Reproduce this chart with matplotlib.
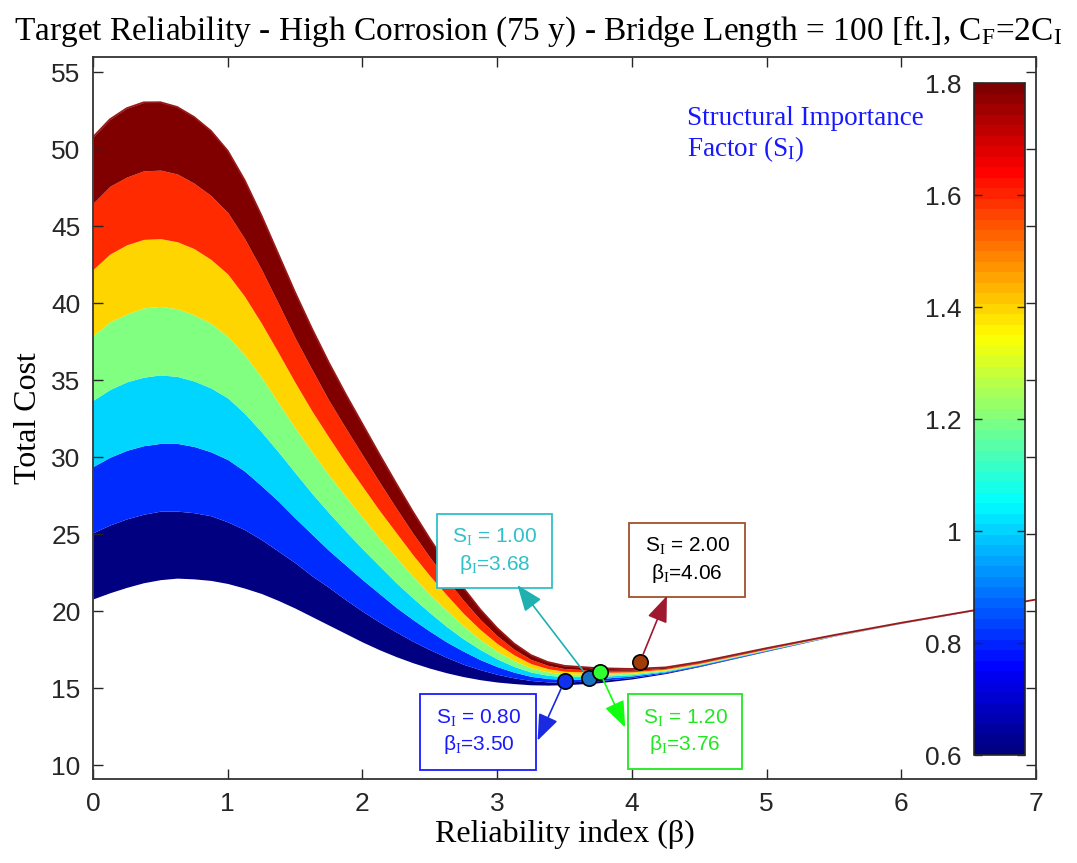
import numpy as np
import matplotlib
matplotlib.use("Agg")
import matplotlib.pyplot as plt
from matplotlib.colors import ListedColormap, Normalize
from matplotlib.patches import Rectangle, FancyArrowPatch
import matplotlib.colorbar as mcolorbar

plt.rcParams['mathtext.fontset'] = 'custom'
plt.rcParams['mathtext.rm'] = 'Liberation Serif'
plt.rcParams['mathtext.it'] = 'Liberation Serif:italic'

# reliability index grid
beta = [0, 0.125, 0.25, 0.375, 0.5, 0.625, 0.75, 0.875, 1.0, 1.125, 1.25, 1.375,
        1.5, 1.625, 1.75, 1.875, 2.0, 2.125, 2.25, 2.375, 2.5, 2.625, 2.75, 2.875,
        3.0, 3.125, 3.25, 3.375, 3.5, 3.75, 4.0, 4.25, 4.5, 5.0, 5.5, 6.0, 6.5, 7.0]

# structural importance factors, one total-cost curve each
si_levels = [0.6, 0.8, 1.0, 1.2, 1.4, 1.6, 1.8, 2.0]

cost_060 = [20.8, 21.2, 21.55, 21.85, 22.05, 22.15, 22.1, 22.0, 21.8, 21.5, 21.15, 20.7,
            20.2, 19.65, 19.1, 18.55, 18.0, 17.5, 17.05, 16.65, 16.3, 16.0, 15.75, 15.55,
            15.4, 15.3, 15.22, 15.2, 15.22, 15.35, 15.6, 15.95, 16.4, 17.4, 18.38, 19.21,
            19.98, 20.76]
cost_080 = [25.1, 25.6, 26.0, 26.3, 26.5, 26.5, 26.4, 26.2, 25.8, 25.3, 24.65, 23.9,
            23.15, 22.3, 21.55, 20.75, 20.0, 19.3, 18.65, 18.05, 17.5, 17.0, 16.55, 16.2,
            15.9, 15.67, 15.5, 15.41, 15.4, 15.49, 15.69, 16.01, 16.44, 17.43, 18.39, 19.22,
            19.98, 20.76]
cost_100 = [29.4, 30.0, 30.45, 30.75, 30.9, 30.9, 30.7, 30.35, 29.85, 29.1, 28.15, 27.15,
            26.05, 25.0, 23.95, 23.0, 22.05, 21.15, 20.25, 19.45, 18.7, 18.0, 17.4, 16.85,
            16.4, 16.04, 15.77, 15.63, 15.57, 15.62, 15.79, 16.06, 16.49, 17.46, 18.4, 19.22,
            19.99, 20.76]
cost_120 = [33.7, 34.4, 34.9, 35.2, 35.35, 35.25, 34.95, 34.5, 33.85, 32.85, 31.65, 30.35,
            29.0, 27.65, 26.4, 25.2, 24.05, 22.95, 21.85, 20.85, 19.9, 19.0, 18.2, 17.5,
            16.9, 16.41, 16.05, 15.84, 15.75, 15.76, 15.88, 16.12, 16.53, 17.49, 18.41, 19.23,
            19.99, 20.76]
cost_140 = [37.9, 38.8, 39.3, 39.7, 39.8, 39.65, 39.25, 38.7, 37.85, 36.65, 35.2, 33.55,
            31.9, 30.35, 28.85, 27.45, 26.1, 24.75, 23.5, 22.25, 21.1, 20.05, 19.05, 18.15,
            17.4, 16.79, 16.32, 16.06, 15.92, 15.89, 15.97, 16.18, 16.57, 17.51, 18.42, 19.23,
            19.99, 20.76]
cost_160 = [42.2, 43.2, 43.8, 44.15, 44.2, 44.0, 43.55, 42.85, 41.9, 40.45, 38.7, 36.8,
            34.85, 33.0, 31.3, 29.65, 28.1, 26.55, 25.1, 23.65, 22.3, 21.05, 19.85, 18.8,
            17.9, 17.16, 16.6, 16.27, 16.1, 16.03, 16.06, 16.24, 16.61, 17.54, 18.43, 19.24,
            19.99, 20.76]
cost_180 = [46.5, 47.6, 48.2, 48.6, 48.65, 48.4, 47.8, 47.0, 45.9, 44.2, 42.2, 40.0,
            37.75, 35.7, 33.7, 31.9, 30.15, 28.4, 26.7, 25.05, 23.5, 22.05, 20.7, 19.45,
            18.4, 17.53, 16.87, 16.49, 16.27, 16.16, 16.16, 16.29, 16.66, 17.57, 18.44, 19.24,
            20.0, 20.76]
cost_200 = [50.8, 51.95, 52.67, 53.05, 53.06, 52.75, 52.1, 51.2, 49.9, 48.0, 45.7, 43.2,
            40.7, 38.35, 36.15, 34.1, 32.15, 30.2, 28.3, 26.45, 24.7, 23.05, 21.5, 20.1,
            18.9, 17.9, 17.15, 16.7, 16.45, 16.3, 16.25, 16.35, 16.7, 17.6, 18.45, 19.25,
            20.0, 20.76]
curves = [cost_060, cost_080, cost_100, cost_120, cost_140, cost_160, cost_180, cost_200]

# optimum (target) points
opt_si = [0.80, 1.00, 1.20, 2.00]
opt_beta = [3.50, 3.68, 3.76, 4.06]
opt_cost = [15.47, 15.65, 16.06, 16.70]

# MATLAB-like jet with 64 entries
x = np.linspace(0, 1, 64)
jet_rgb = np.stack([np.clip(1.5 - np.abs(4 * x - 3), 0, 1),
                    np.clip(1.5 - np.abs(4 * x - 2), 0, 1),
                    np.clip(1.5 - np.abs(4 * x - 1), 0, 1)], axis=1)
jet64 = ListedColormap(jet_rgb)
norm = Normalize(0.6, 1.8)


def jet_color(v):
    t = np.clip((v - 0.6) / 1.2, 0, 1)
    return (float(np.clip(1.5 - abs(4 * t - 3), 0, 1)),
            float(np.clip(1.5 - abs(4 * t - 2), 0, 1)),
            float(np.clip(1.5 - abs(4 * t - 1), 0, 1)))


fig = plt.figure(figsize=(10.77, 8.63), dpi=100)
ax = fig.add_axes([0.0864, 0.0973, 0.8756, 0.8367])

b = np.array(beta)
for k in range(len(curves) - 1):
    ax.fill_between(b, curves[k], curves[k + 1], color=jet_color(si_levels[k]),
                    lw=0, antialiased=True)
ax.plot(b, cost_200, color=(0.6, 0.1, 0.1), lw=1.3)

marker_cols = ['#1030f0', '#1a70c0', '#30ff30', '#a03c08']
for bx, cy, mc in zip(opt_beta, opt_cost, marker_cols):
    ax.plot(bx, cy, 'o', ms=11, mfc=mc, mec='black', mew=1.2, zorder=5)

ax.set_xlim(0, 7)
ax.set_ylim(9.1, 56)
ax.set_xticks(range(0, 8))
ax.set_yticks(range(10, 56, 5))
ax.tick_params(direction='in', length=7, width=1, top=True, right=True,
               labelsize=19, pad=9, colors='0.15')
for lab in ax.get_xticklabels() + ax.get_yticklabels():
    lab.set_family('Liberation Sans')
for sp in ax.spines.values():
    sp.set_linewidth(1.3)
    sp.set_color('0.2')

serif = 'Liberation Serif'
ax.set_xlabel('Reliability index (β)', family=serif, fontsize=23, labelpad=3)
ax.set_ylabel('Total Cost', family=serif, fontsize=23, labelpad=6)
fig.text(0.5, 0.964, r'Target Reliability - High Corrosion (75 y) - Bridge Length = 100 [ft.], '
         r'C$_\mathrm{F}$=2C$_\mathrm{I}$', family=serif, fontsize=24,
         ha='center', va='center')

ax.text(4.41, 52.0, 'Structural Importance', family=serif, fontsize=19.5,
        color='#1818ff', va='center', ha='left')
ax.text(4.41, 50.0, r'Factor (S$_\mathrm{I}$)', family=serif, fontsize=19.5,
        color='#1818ff', va='center', ha='left')

# annotation boxes: (x0, y0, x1, y1), colours, arrow head position
boxes = [
    (2.43, 9.7, 3.29, 14.65, '#1a1aff', '#1a1aff', '#1a2ae0', (3.30, 11.6)),
    (2.55, 21.5, 3.41, 26.3, '#30c0c8', '#30c0c8', '#20b0b0', (3.15, 21.7)),
    (3.97, 9.75, 4.82, 14.6, '#20e820', '#20e820', '#10ff10', (3.95, 12.45)),
    (3.98, 20.95, 4.84, 25.7, '#a0522d', 'black', '#a01830', (4.26, 21.0)),
]
for i, (x0, y0, x1, y1, ec, tc, ac, head) in enumerate(boxes):
    ax.add_patch(Rectangle((x0, y0), x1 - x0, y1 - y0, fill=True, fc='white',
                           ec=ec, lw=1.3, zorder=6))
    xc = (x0 + x1) / 2
    ym = (y0 + y1) / 2
    ax.text(xc, ym + 0.95, r'S$_\mathrm{I}$ = %.2f' % opt_si[i], ha='center', va='center',
            family='Liberation Sans', fontsize=15, color=tc, zorder=7)
    ax.text(xc, ym - 0.85, r'β$_\mathrm{I}$=%.2f' % opt_beta[i], ha='center', va='center',
            family='Liberation Sans', fontsize=15, color=tc, zorder=7)
    arr = FancyArrowPatch((opt_beta[i], opt_cost[i]), head,
                          arrowstyle='-|>,head_length=0.9,head_width=0.35',
                          mutation_scale=18, color=ac, lw=1.2, zorder=6,
                          shrinkA=6, shrinkB=0)
    ax.add_patch(arr)

# colour bar placed inside the axes
cax = fig.add_axes([0.9044, 0.1251, 0.0474, 0.7787])
cb = mcolorbar.ColorbarBase(cax, cmap=jet64, norm=norm, orientation='vertical')
cb.set_ticks([0.6, 0.8, 1.0, 1.2, 1.4, 1.6, 1.8])
cb.set_ticklabels(['0.6', '0.8', '1', '1.2', '1.4', '1.6', '1.8'])
cax.yaxis.set_ticks_position('both')
cax.tick_params(direction='in', length=6, width=1, left=True, right=True,
                labelleft=True, labelright=False, labelsize=19, pad=9, colors='0.15')
for lab in cax.get_yticklabels():
    lab.set_family('Liberation Sans')
cb.outline.set_linewidth(1.2)
cb.outline.set_edgecolor('0.15')

fig.savefig('out.png', dpi=100)
